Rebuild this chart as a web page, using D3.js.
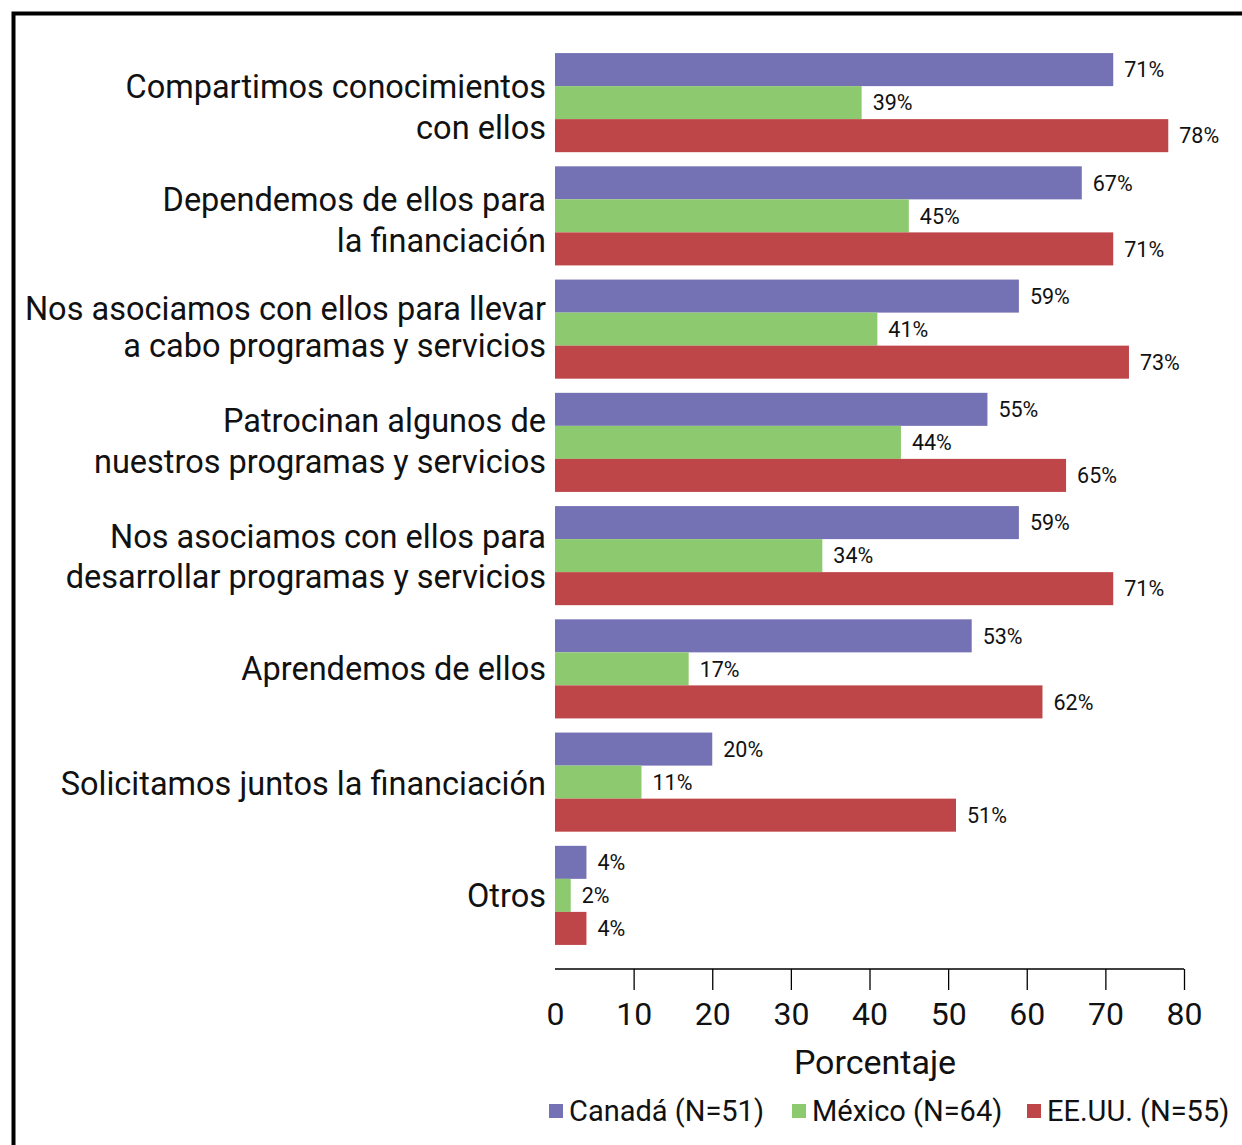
<!DOCTYPE html>
<html>
<head>
<meta charset="utf-8">
<script src="https://cdn.jsdelivr.net/npm/d3@7"></script>
<style>
  html, body { margin: 0; padding: 0; background: #fff; }
  svg { display: block; }
</style>
</head>
<body>
<script>
// Categories (each entry is split into its display lines)
const categories = [
  ["Compartimos conocimientos", "con ellos"],
  ["Dependemos de ellos para", "la financiación"],
  ["Nos asociamos con ellos para llevar", "a cabo programas y servicios"],
  ["Patrocinan algunos de", "nuestros programas y servicios"],
  ["Nos asociamos con ellos para", "desarrollar programas y servicios"],
  ["Aprendemos de ellos"],
  ["Solicitamos juntos la financiación"],
  ["Otros"]
];
const seriesNames = ["Canadá (N=51)", "México (N=64)", "EE.UU. (N=55)"];
const canada = [71, 67, 59, 55, 59, 53, 20, 4];
const mexico = [39, 45, 41, 44, 34, 17, 11, 2];
const usa    = [78, 71, 73, 65, 71, 62, 51, 4];
const seriesColors = ["#7472b4", "#8dc96e", "#be4548"];
const xTicks = [0, 10, 20, 30, 40, 50, 60, 70, 80];
const xTitle = "Porcentaje";

const W = 1242, H = 1145;
const FONT = "Roboto, 'Liberation Sans', Arial, sans-serif";
const series = [canada, mexico, usa];

// per-label vertical nudges and line spacing for the category text blocks
const labelShift = [4, 4, -2, -2, 1, -1, 1, 0];
const labelGap = [41, 41, 37, 41, 40, 41, 41, 41];

const svg = d3.select("body").append("svg")
  .attr("width", W).attr("height", H);

// frame lines on top and left
svg.append("path")
  .attr("d", `M13.5,${H} L13.5,13.5 L${W},13.5`)
  .attr("fill", "none").attr("stroke", "#000").attr("stroke-width", 4);

const x = d3.scaleLinear().domain([0, 80]).range([555, 1184]);
const y = d3.scaleBand()
  .domain(d3.range(categories.length))
  .range([46, 952])
  .paddingInner(0.125)
  .paddingOuter(0.0625);
const ySub = d3.scaleBand()
  .domain(d3.range(series.length))
  .range([0, y.bandwidth()]);

const groups = svg.append("g").selectAll("g")
  .data(categories)
  .join("g")
  .attr("transform", (d, i) => `translate(0,${y(i)})`);

series.forEach((vals, s) => {
  groups.append("rect")
    .attr("x", x(0))
    .attr("y", ySub(s))
    .attr("width", (d, i) => x(vals[i]) - x(0))
    .attr("height", ySub.bandwidth())
    .attr("fill", seriesColors[s]);
  groups.append("text")
    .attr("x", (d, i) => x(vals[i]) + 11)
    .attr("y", ySub(s) + ySub.bandwidth() / 2)
    .attr("dy", "0.36em")
    .attr("font-family", FONT)
    .attr("font-size", 21.5)
    .attr("fill", "#111")
    .text((d, i) => vals[i] + "%");
});

// category labels, right aligned next to the bars
groups.append("text")
  .attr("text-anchor", "end")
  .attr("font-family", FONT)
  .attr("font-size", 32.5)
  .attr("fill", "#111")
  .each(function(lines, i) {
    const t = d3.select(this);
    const c = y.bandwidth() / 2 + labelShift[i];
    lines.forEach((ln, k) => {
      t.append("tspan")
        .attr("x", 546)
        .attr("y", c + (k - (lines.length - 1) / 2) * labelGap[i])
        .attr("dy", "0.36em")
        .text(ln);
    });
  });

// x axis
const axisY = 969;
const axis = d3.axisBottom(x).tickValues(xTicks).tickSize(21).tickPadding(12);
const ax = svg.append("g").attr("transform", `translate(0,${axisY})`).call(axis);
ax.select(".domain").attr("stroke", "#000").attr("stroke-width", 1.3)
  .attr("d", `M${x(0)},0H${x(80)}`);
ax.selectAll(".tick line").attr("stroke", "#000").attr("stroke-width", 1.3)
  .filter(d => d === 0).remove();
ax.selectAll(".tick text")
  .attr("font-family", FONT).attr("font-size", 32).attr("fill", "#111");

svg.append("text")
  .attr("x", 875)
  .attr("y", 1062).attr("dy", "0.36em")
  .attr("text-anchor", "middle")
  .attr("font-family", FONT).attr("font-size", 34).attr("fill", "#111")
  .text(xTitle);

// legend
const legendX = [549, 792, 1027];
const leg = svg.append("g").selectAll("g").data(seriesNames).join("g")
  .attr("transform", (d, i) => `translate(${legendX[i]},1111)`);
leg.append("rect").attr("x", 0).attr("y", -7).attr("width", 14).attr("height", 14)
  .attr("fill", (d, i) => seriesColors[i]);
leg.append("text").attr("x", 20).attr("dy", "0.36em")
  .attr("font-family", FONT).attr("font-size", 29).attr("fill", "#111")
  .text(d => d);
</script>
</body>
</html>
